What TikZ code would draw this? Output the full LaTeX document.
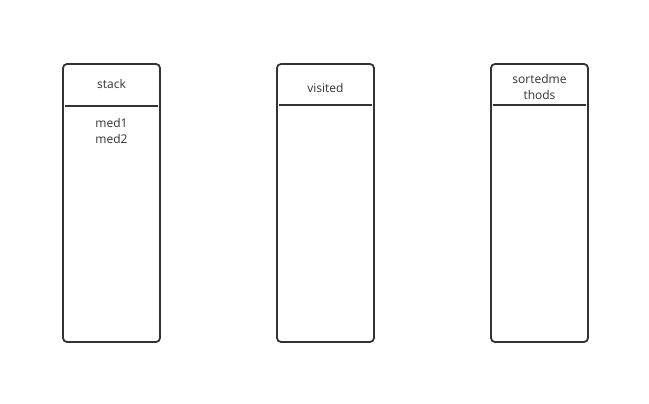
\documentclass[tikz,border=0pt]{standalone}
\usepackage{fontspec}
\setmainfont{Open Sans}
\definecolor{ln}{HTML}{333333}
\begin{document}
\begin{tikzpicture}[x=1pt,y=-1pt,
  colbox/.style={draw=ln,line width=1.8pt,rounded corners=4pt},
  divline/.style={draw=ln,line width=1.8pt},
  lbl/.style={font=\fontsize{12}{16}\selectfont,text=ln,align=center,inner sep=0pt}]
\useasboundingbox (0,0) rectangle (649,404);
\foreach \n/\x/\d in {a/63/106,b/277/105,c/491/105}{
  \draw[colbox] (\x,64) rectangle ++(97,278);
  \coordinate (\n l) at (\x+2,\d);
  \coordinate (\n r) at (\x+95,\d);
  \draw[divline] (\n l) -- (\n r);
}
\node[lbl] (t1) at (111.5,84) {stack};
\node[lbl] (m1) at (111.5,131) {med1\\med2};
\node[lbl] (t2) at (325.5,88) {visited};
\node[lbl] (t3) at (539.5,87) {sortedme\\thods};
\end{tikzpicture}
\end{document}
